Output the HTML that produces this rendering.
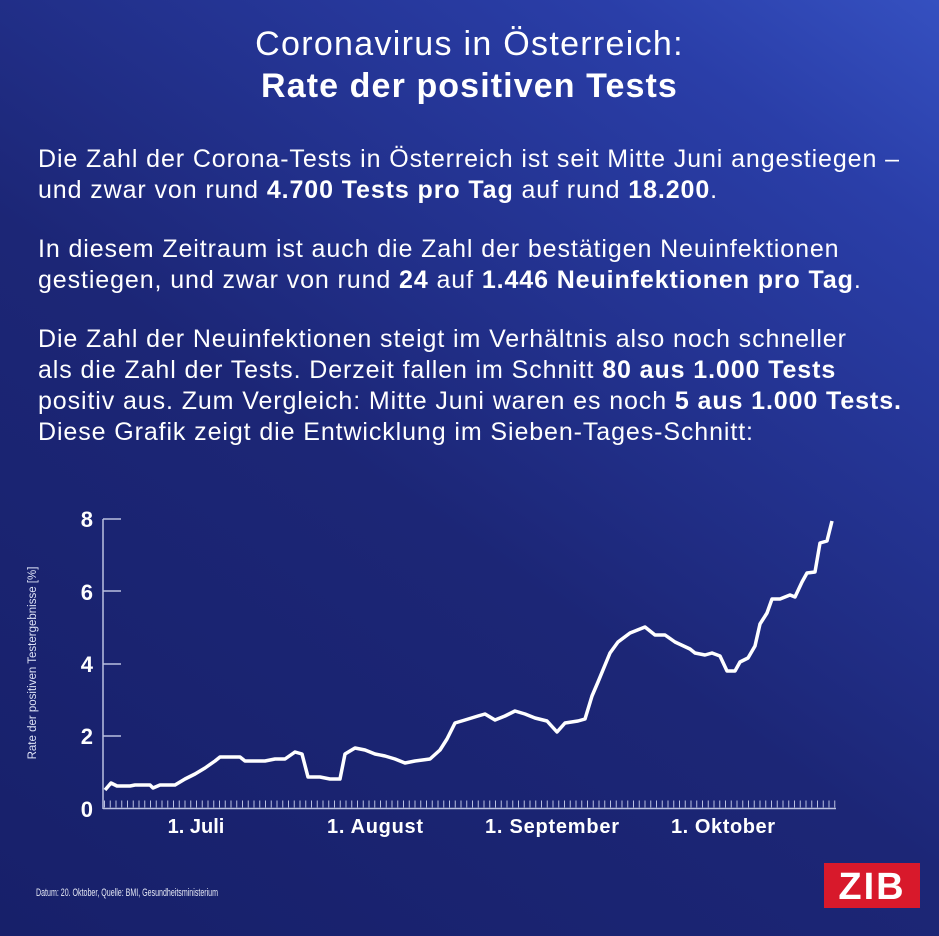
<!DOCTYPE html>
<html><head><meta charset="utf-8"><style>
html,body{margin:0;padding:0}
body{width:939px;height:936px;overflow:hidden;position:relative;font-family:"Liberation Sans",sans-serif;color:#fff;
background:linear-gradient(35deg,#17206a 0%,#1c2676 45%,#2a3ea8 85%,#3550c0 100%);}
.t{position:absolute;white-space:nowrap}
.title{left:0;width:939px;text-align:center;font-size:34px;letter-spacing:1.3px}
.p{left:38px;font-size:25px;letter-spacing:0.9px}
b{font-weight:bold}
</style></head><body>
<div class="t title" style="top:25px">Coronavirus in Österreich:</div>
<div class="t title" style="top:67px;font-weight:bold;letter-spacing:1.1px">Rate der positiven Tests</div>
<div class="t p" style="top:145px">Die Zahl der Corona-Tests in Österreich ist seit Mitte Juni angestiegen –</div>
<div class="t p" style="top:176px">und zwar von rund <b>4.700 Tests pro Tag</b> auf rund <b>18.200</b>.</div>
<div class="t p" style="top:235px">In diesem Zeitraum ist auch die Zahl der bestätigen Neuinfektionen</div>
<div class="t p" style="top:266px">gestiegen, und zwar von rund <b>24</b> auf <b>1.446 Neuinfektionen pro Tag</b>.</div>
<div class="t p" style="top:325px">Die Zahl der Neuinfektionen steigt im Verhältnis also noch schneller</div>
<div class="t p" style="top:356px">als die Zahl der Tests. Derzeit fallen im Schnitt <b>80 aus 1.000 Tests</b></div>
<div class="t p" style="top:387px">positiv aus. Zum Vergleich: Mitte Juni waren es noch <b>5 aus 1.000 Tests.</b></div>
<div class="t p" style="top:418px">Diese Grafik zeigt die Entwicklung im Sieben-Tages-Schnitt:</div>
<svg width="939" height="936" style="position:absolute;left:0;top:0" font-family="Liberation Sans, sans-serif">
<g stroke="#b9c0e0" stroke-width="1.5" fill="none">
<line x1="103" y1="519" x2="103" y2="809"/>
<line x1="103" y1="808.5" x2="836" y2="808.5"/>
<line x1="103" y1="519" x2="121" y2="519"/>
<line x1="103" y1="591" x2="121" y2="591"/>
<line x1="103" y1="664" x2="121" y2="664"/>
<line x1="103" y1="736" x2="121" y2="736"/>
<line x1="104" y1="804" x2="836" y2="804" stroke-width="7" stroke-dasharray="1 4.75"/>
</g>
<g fill="#fff" font-weight="bold" font-size="22" text-anchor="end">
<text x="93" y="527">8</text><text x="93" y="600">6</text><text x="93" y="672">4</text><text x="93" y="744">2</text><text x="93" y="817">0</text>
</g>
<g fill="#fff" font-size="20" font-weight="bold" text-anchor="middle">
<text x="196" y="833">1. Juli</text><text x="375" y="833" textLength="96">1. August</text><text x="552" y="833" textLength="134">1. September</text><text x="723" y="833" textLength="104">1. Oktober</text>
</g>
<text transform="translate(36,663) rotate(-90)" fill="#dde2f5" font-size="11.5" text-anchor="middle">Rate der positiven Testergebnisse [%]</text>
<polyline fill="none" stroke="#fff" stroke-width="3.5" stroke-linejoin="round" points="
105,790 111,783 117,786 130,786 135,785 150,785 153,788 160,785 175,785 185,779 195,774 205,768 215,761 220,757 230,757 240,757 245,761 255,761 265,761 275,759 285,759 295,752 302,754 308,777 320,777 330,779 340,779 345,754 355,748 365,750 375,754 385,756 395,759 405,763 415,761 430,759 440,750 447,739 455,723 465,720 478,716 485,714 495,720 505,716 515,711 525,714 535,718 547,721 557,732 565,723 578,721 585,719 592,696 598,682 610,653 618,642 630,633 645,627 655,635 665,635 675,642 690,649 695,653 705,655 712,653 720,656 727,671 735,671 740,662 748,658 755,646 760,624 767,613 772,599 780,599 790,595 795,597 802,582 807,573 815,572 820,543 827,541 832,521"/>
<text x="36" y="896" fill="#e6e9f5" font-size="11" textLength="182" lengthAdjust="spacingAndGlyphs">Datum: 20. Oktober, Quelle: BMI, Gesundheitsministerium</text>
<rect x="824" y="863" width="96" height="45" fill="#d8192b"/>
<text x="872" y="899" fill="#fff" font-size="38" font-weight="bold" text-anchor="middle" letter-spacing="2">ZIB</text>
</svg>
</body></html>
